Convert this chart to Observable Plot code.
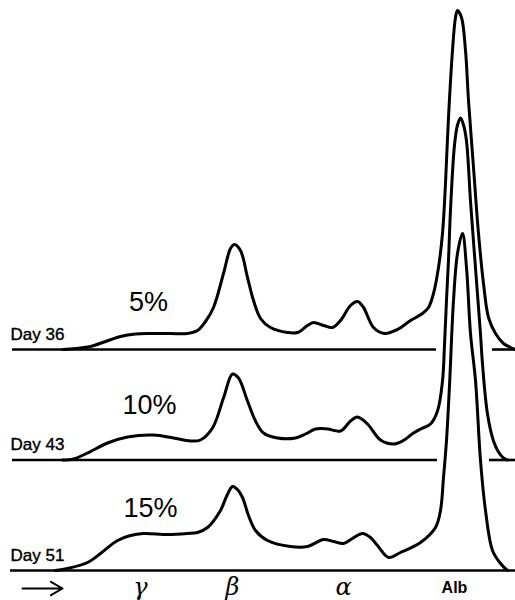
<!DOCTYPE html>
<html>
<head>
<meta charset="utf-8">
<script src="https://cdn.jsdelivr.net/npm/d3@7"></script>
<script src="https://cdn.jsdelivr.net/npm/@observablehq/plot@0.6"></script>
<style>
  html, body { margin: 0; padding: 0; background: #fff; }
  #chart svg { display: block; }
</style>
</head>
<body>
<div id="chart"></div>
<script>
// Series labels
const days = ["Day 36", "Day 43", "Day 51"];
const percents = ["5%", "10%", "15%"];

// Electrophoretic mobility (x) and trace height above each baseline
const mobility36 = [62,75,90,105,120,135,150,170,187,197,205,213,223,230,234,240,247,253,260,270,287,297,307,313,323,332,340,350,357,363,373,384,397,410,422,428,433,438,442,445,448,452,455,457,461,465,468,473,478,483,488,495,503,510,515];
const height36   = [0,1,3,8,13,15.5,16,16,16,19,28,42,76,101,105,99,72,49,31,22,17,17,24,27,24,22,29,44,48,42,22,16,20,29,36,42,56,82,116,166,232,299,332,339,332,299,249,182,116,66,32,16,6,2,0];

const mobility43 = [62,73,87,107,127,153,173,190,200,212,223,232,238,247,255,263,277,295,305,315,327,340,350,357,367,380,393,402,413,420,430,437,442,444,446,448,450,454,457,460,463,466,470,475,480,482,487,493,498,503,507];
const height43   = [0,1,7,17,23,25,22,19,20,32,62,86,82,59,39,27,22,22,26,31,31,29,39,43,36,20,16,19,27,31,36,49,79,115,160,200,250,315,335,342,335,319,259,192,126,96,46,19,8,2,0];

const mobility51 = [55,67,87,100,117,130,143,167,187,197,207,220,226,232,237,242,248,255,267,290,307,323,333,343,352,362,370,377,388,400,420,435,440,443,446,449,453,457,462,466,470,475,480,485,492,500,507];
const height51   = [0,2,8,17,30,35,37,36,37,38,43,60,74,84,81,73,55,40,30,24,24,31,29,27,32,37,33,25,13,18,28,43,60,93,130,185,270,317,337,303,237,190,110,60,20,7,0];

// Baseline extents (mobility) for each trace, broken where the albumin peaks cross
const baseline36 = [[12, 436], [492, 515]];
const baseline43 = [[12, 437], [489, 515]];
const baseline51 = [[10, 515]];

// Annotation positions: label mobility / height above baseline
const percentMobility = [148, 149, 150];
const percentHeight = [39, 46, 54];

// Bottom fraction labels
const fractionTicks = [140, 232, 343];
const fractionLabels = ["γ", "β", "α"];
const albTick = [454];
const albLabel = ["Alb"];
const arrowSpan = [{from: 22, to: 62}];

const spacing = 110.5;
const traces = [
  {day: days[0], pct: percents[0], xs: mobility36, hs: height36, base: baseline36},
  {day: days[1], pct: percents[1], xs: mobility43, hs: height43, base: baseline43},
  {day: days[2], pct: percents[2], xs: mobility51, hs: height51, base: baseline51}
].map((t, i) => ({...t, offset: (2 - i) * spacing}));

const linePts = traces.flatMap(t => t.xs.map((x, j) => ({day: t.day, x, y: t.offset + t.hs[j]})));
const baseSegs = traces.flatMap(t => t.base.map(([a, b]) => ({day: t.day, x1: a, x2: b, y: t.offset})));
const dayLabels = traces.map(t => ({text: t.day, x: 10, y: t.offset + 10}));
const pctLabels = traces.map((t, i) => ({text: t.pct, x: percentMobility[i], y: t.offset + percentHeight[i]}));

const chart = Plot.plot({
  width: 515,
  height: 600,
  marginTop: 0,
  marginRight: 0,
  marginLeft: 0,
  marginBottom: 30,
  x: {domain: [0, 515], axis: null},
  y: {domain: [0, 570], axis: null},
  style: {background: "#fff"},
  marks: [
    Plot.ruleY(baseSegs, {y: "y", x1: "x1", x2: "x2", stroke: "#000", strokeWidth: 2.6}),
    Plot.line(linePts, {x: "x", y: "y", z: "day", curve: "catmull-rom", stroke: "#000", strokeWidth: 3, strokeLinejoin: "round", strokeLinecap: "round"}),
    Plot.text(dayLabels, {x: "x", y: "y", text: "text", textAnchor: "start", lineAnchor: "bottom", fontSize: 17, fontWeight: 500, fontFamily: "Liberation Sans, Arial, sans-serif", fill: "#000", stroke: "#000", strokeWidth: 0.4}),
    Plot.text(pctLabels, {x: "x", y: "y", text: "text", textAnchor: "middle", lineAnchor: "bottom", fontSize: 27, fontFamily: "Liberation Sans, Arial, sans-serif", fill: "#000"}),
    Plot.axisX({ticks: fractionTicks, tickFormat: (d) => fractionLabels[fractionTicks.indexOf(d)], tickSize: 0, tickPadding: 7, fontSize: 24, fontStyle: "italic", fontFamily: "DejaVu Serif, serif", anchor: "bottom", color: "#000"}),
    Plot.axisX({ticks: albTick, tickFormat: () => albLabel[0], tickSize: 0, tickPadding: 11, fontSize: 16, fontWeight: "bold", fontFamily: "Liberation Sans, Arial, sans-serif", anchor: "bottom", color: "#000"}),
    Plot.arrow(arrowSpan, {x1: "from", x2: "to", y1: () => -18, y2: () => -18, stroke: "#000", strokeWidth: 2, headLength: 10, bend: 0})
  ]
});
document.getElementById("chart").appendChild(chart);
</script>
</body>
</html>
